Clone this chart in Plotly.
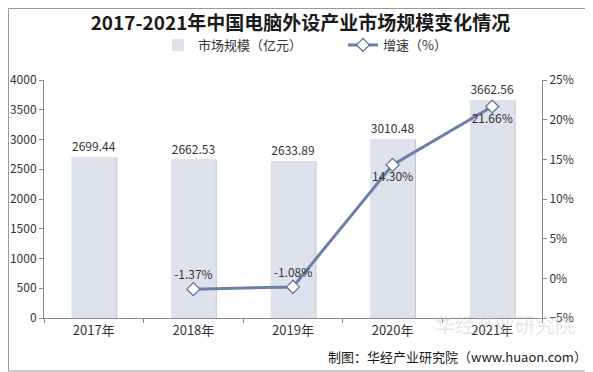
import plotly.graph_objects as go

years = ["2017年", "2018年", "2019年", "2020年", "2021年"]
market = [2699.44, 2662.53, 2633.89, 3010.48, 3662.56]
growth_years = ["2018年", "2019年", "2020年", "2021年"]
growth = [-1.37, -1.08, 14.30, 21.66]
growth_pos = ["top center", "top center", "bottom center", "bottom center"]

FONT = "Noto Sans CJK SC"
# page body has 8px default margin: shift everything by -8
OFF = 8
W, H = 593 - OFF, 372 - OFF
L, T = 44 - OFF, 80 - OFF
PW, PH = 498, 238

fig = go.Figure()

fig.add_trace(go.Bar(
    x=years, y=market, width=0.45, offset=-0.215,
    marker=dict(color="rgba(150,150,150,0.55)", line=dict(width=0)),
    hoverinfo="skip", showlegend=False,
))
fig.add_trace(go.Bar(
    x=years, y=market, width=0.45, offset=-0.225,
    name="市场规模（亿元）",
    marker=dict(color="#dde2ec", line=dict(width=0)),
    text=[f"{v:.2f}" for v in market], textposition="outside",
    textfont=dict(size=12, color="#333333", family=FONT),
    cliponaxis=False,
))
fig.add_trace(go.Scatter(
    x=growth_years, y=growth, yaxis="y2", name="增速（%）",
    mode="lines+markers+text",
    line=dict(color="#6b7fa8", width=3),
    marker=dict(symbol="diamond", size=10, color="white",
                line=dict(color="#5a6d96", width=1.2)),
    text=[f"{v:.2f}%" for v in growth], textposition=growth_pos,
    textfont=dict(size=12, color="#333333", family=FONT),
    cliponaxis=False,
))

def px_x(x):  # absolute page x -> paper
    return (x - OFF - L) / PW

def px_y(y):  # absolute page y -> paper
    return 1 - (y - OFF - T) / PH

fig.update_layout(
    width=W, height=H,
    paper_bgcolor="white", plot_bgcolor="white",
    margin=dict(l=L, r=W - L - PW, t=T, b=H - T - PH, autoexpand=False),
    font=dict(family=FONT, size=12, color="#333333"),
    barmode="overlay",
    title=dict(text="<b>2017-2021年中国电脑外设产业市场规模变化情况</b>",
               x=0.5, xanchor="center", y=1 - (23 - OFF) / H, yanchor="middle",
               font=dict(size=19, color="#1a1a1a", family=FONT)),
    legend=dict(orientation="h", x=px_x(158), xanchor="left",
                y=px_y(45), yanchor="middle", itemwidth=30,
                entrywidth=140,
                font=dict(size=13, color="#333333"), traceorder="normal"),
    xaxis=dict(showline=True, linecolor="#888888", ticks="outside",
               tickson="boundaries", tickcolor="#888888", ticklen=4,
               tickfont=dict(size=13, color="#333333")),
    yaxis=dict(range=[0, 4000], dtick=500, showgrid=False, showline=True,
               linecolor="#888888", ticks="outside", tickcolor="#888888",
               ticklen=4, tickfont=dict(size=12, color="#333333"), zeroline=False),
    yaxis2=dict(range=[-5, 25], dtick=5, overlaying="y", side="right",
                showgrid=False, showline=True, linecolor="#888888",
                ticks="outside", tickcolor="#888888", ticklen=4,
                ticksuffix="%", tickfont=dict(size=12, color="#333333"),
                zeroline=False),
    shapes=[dict(type="rect", xref="paper", yref="paper",
                 x0=px_x(OFF + 0.5), x1=px_x(592), y0=px_y(371), y1=px_y(OFF + 0.5),
                 line=dict(color="#999999", width=1))],
    annotations=[
        dict(text="华经产业研究院", xref="paper", yref="paper",
             x=px_x(505), y=px_y(324), xanchor="center", yanchor="middle",
             showarrow=False, font=dict(size=20, color="rgba(190,190,190,0.4)", family=FONT)),
        dict(text="制图：华经产业研究院（www.huaon.com）", xref="paper", yref="paper",
             x=px_x(589), y=px_y(356), xanchor="right", yanchor="middle",
             showarrow=False, font=dict(size=13, color="#1a1a1a", family=FONT)),
    ],
)

fig.write_html("out.html")
